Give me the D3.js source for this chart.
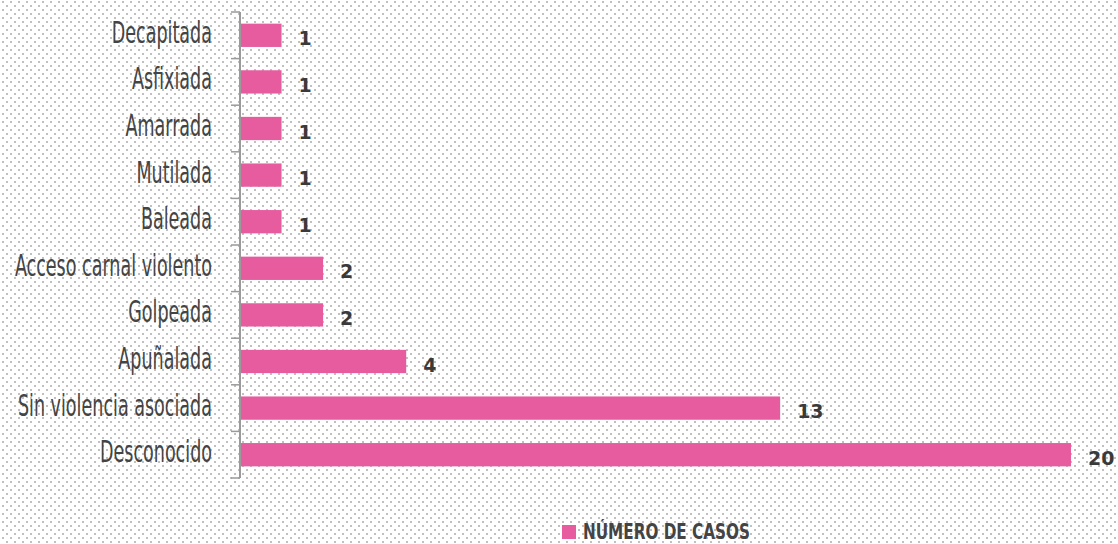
<!DOCTYPE html>
<html>
<head>
<meta charset="utf-8">
<script src="https://cdn.jsdelivr.net/npm/d3@7"></script>
<style>
  html, body { margin: 0; padding: 0; background: #fff; }
</style>
</head>
<body>
<div id="chart"></div>
<script>
var categories = ["Decapitada", "Asfixiada", "Amarrada", "Mutilada", "Baleada",
    "Acceso carnal violento", "Golpeada", "Apuñalada", "Sin violencia asociada", "Desconocido"];
var casos = [1, 1, 1, 1, 1, 2, 2, 4, 13, 20];
var seriesName = "NÚMERO DE CASOS";

var W = 1118, H = 544;
var margin = { top: 12, right: 47, bottom: 66, left: 240 };
var width = W - margin.left - margin.right;
var height = H - margin.top - margin.bottom;
var pink = "#e65c9f";
var condensed = "'DejaVu Sans Condensed', 'DejaVu Sans', sans-serif";

var svg = d3.select("#chart")
    .append("svg")
    .attr("width", W)
    .attr("height", H);

// dotted background
var pat = svg.append("defs").append("pattern")
    .attr("id", "dots")
    .attr("patternUnits", "userSpaceOnUse")
    .attr("width", 8)
    .attr("height", 8);
pat.append("rect").attr("x", 2).attr("y", 1).attr("width", 2).attr("height", 2).attr("fill", "#c0c0c0");
pat.append("rect").attr("x", 6).attr("y", 5).attr("width", 2).attr("height", 2).attr("fill", "#c0c0c0");
svg.append("rect").attr("width", W).attr("height", H).attr("fill", "#fff");
svg.append("rect").attr("width", W).attr("height", H).attr("fill", "url(#dots)");

var g = svg.append("g")
    .attr("transform", "translate(" + margin.left + "," + margin.top + ")");

var x = d3.scaleLinear()
    .domain([0, 20])
    .range([0, width]);

var y = d3.scaleBand()
    .domain(categories)
    .range([0, height])
    .paddingInner(0.5)
    .paddingOuter(0.25);

var step = y.step();

// axis line with ticks on band boundaries
var boundaries = d3.range(categories.length + 1).map(function(i) { return i * step; });
g.append("line")
    .attr("x1", 0).attr("x2", 0)
    .attr("y1", 0).attr("y2", height)
    .attr("stroke", "#9a9a9a")
    .attr("stroke-width", 2);
g.selectAll(".tick-mark")
    .data(boundaries)
    .enter()
    .append("line")
    .attr("class", "tick-mark")
    .attr("x1", -9).attr("x2", 0)
    .attr("y1", function(d) { return d; })
    .attr("y2", function(d) { return d; })
    .attr("stroke", "#9a9a9a")
    .attr("stroke-width", 1.5);

// category labels
g.selectAll(".cat")
    .data(categories)
    .enter()
    .append("text")
    .attr("class", "cat")
    .attr("transform", function(d) {
        return "translate(-28," + (y(d) + y.bandwidth() / 2 + 7.5) + ") scale(0.65,1)";
    })
    .attr("text-anchor", "end")
    .style("font-family", condensed)
    .style("font-size", "30px")
    .style("fill", "#444")
    .text(function(d) { return d; });

// bars
g.selectAll(".bar")
    .data(casos)
    .enter()
    .append("rect")
    .attr("class", "bar")
    .attr("x", 1)
    .attr("y", function(d, i) { return y(categories[i]); })
    .attr("width", function(d) { return x(d) - 1; })
    .attr("height", y.bandwidth())
    .attr("fill", pink);

// value labels
g.selectAll(".val")
    .data(casos)
    .enter()
    .append("text")
    .attr("class", "val")
    .attr("x", function(d) { return x(d) + 17; })
    .attr("y", function(d, i) { return y(categories[i]) + y.bandwidth() / 2 + 10; })
    .style("font-family", "'DejaVu Sans', sans-serif")
    .style("font-weight", "bold")
    .style("font-size", "19px")
    .style("fill", "#3a3a3a")
    .text(function(d) { return d; });

// legend
var legend = svg.append("g").attr("transform", "translate(562,525)");
legend.append("rect")
    .attr("width", 14)
    .attr("height", 14)
    .attr("fill", pink);
legend.append("text")
    .attr("transform", "translate(21,14) scale(0.77,1)")
    .style("font-family", condensed)
    .style("font-size", "22px")
    .style("font-weight", "bold")
    .style("fill", "#444")
    .text(seriesName);
</script>
</body>
</html>
